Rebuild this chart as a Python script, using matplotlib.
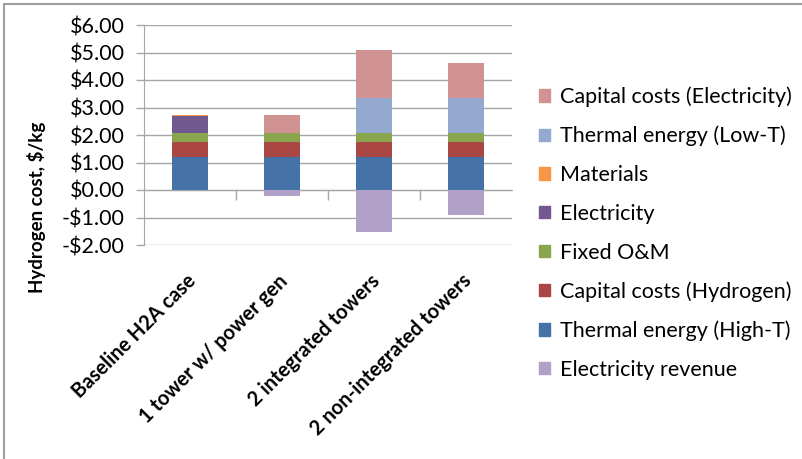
import matplotlib
matplotlib.use("Agg")
import matplotlib.pyplot as plt
from matplotlib.lines import Line2D
from matplotlib.patches import Patch
import matplotlib.transforms as mtransforms
import numpy as np

plt.rcParams['font.family'] = ['Lato', 'DejaVu Sans']

categories = ["Baseline H2A case", "1 tower w/ power gen", "2 integrated towers", "2 non-integrated towers"]
thermal_high = [1.20, 1.20, 1.20, 1.20]
cap_hydrogen = [0.54, 0.54, 0.54, 0.54]
fixed_om = [0.34, 0.34, 0.34, 0.34]
electricity = [0.60, 0.0, 0.0, 0.0]
materials = [0.04, 0.0, 0.0, 0.0]
thermal_low = [0.0, 0.0, 1.25, 1.25]
cap_electricity = [0.0, 0.66, 1.76, 1.30]
elec_revenue = [0.0, -0.23, -1.52, -0.91]

series = [
    ("Thermal energy (High-T)", thermal_high, "#4572A7"),
    ("Capital costs (Hydrogen)", cap_hydrogen, "#AA4643"),
    ("Fixed O&M", fixed_om, "#89A54E"),
    ("Electricity", electricity, "#71588F"),
    ("Materials", materials, "#F79646"),
    ("Thermal energy (Low-T)", thermal_low, "#93A9CF"),
    ("Capital costs (Electricity)", cap_electricity, "#D19392"),
]
revenue_series = ("Electricity revenue", elec_revenue, "#B1A0C7")

W, H = 802, 459
fig = plt.figure(figsize=(W / 100, H / 100), dpi=100)
ax = fig.add_axes([144 / W, 1 - 245 / H, (512 - 144) / W, (245 - 25) / H])

x = np.arange(len(categories))
bw = 0.4
bottom = np.zeros(len(categories))
handles = {}
for name, vals, col in series:
    v = np.array(vals)
    ax.bar(x, v, bw, bottom=bottom, color=col, linewidth=0, zorder=3)
    handles[name] = Patch(color=col)
    bottom += v
name, vals, col = revenue_series
ax.bar(x, vals, bw, color=col, linewidth=0, zorder=3)
handles[name] = Patch(color=col)

ax.set_xlim(-0.5, len(categories) - 0.5)
ax.set_ylim(-2, 6)
yt = np.arange(-2, 7, 1)
ax.set_yticks(yt)
ax.set_yticklabels([("-$%.2f" % abs(v)) if v < 0 else ("$%.2f" % v) for v in yt], fontsize=15.5)
ax.yaxis.grid(True, color="#A6A6A6", linewidth=1.0, zorder=0)
ax.set_axisbelow(True)
for s in ["top", "right"]:
    ax.spines[s].set_visible(False)
ax.spines["left"].set_color("#A6A6A6")
ax.spines["bottom"].set_color("#A6A6A6")
ax.spines["bottom"].set_position(("data", 0))
ax.set_xticks(np.arange(0.5, len(categories) - 0.5, 1.0))
ax.set_xticklabels([])
ax.tick_params(axis="x", direction="out", length=7, color="#A6A6A6", width=1)
ax.tick_params(axis="y", direction="out", length=6, color="#A6A6A6", width=1, pad=8)

trans = mtransforms.blended_transform_factory(ax.transData, ax.transAxes)
for i, c in enumerate(categories):
    ax.text(i + 0.03, -0.15, c, transform=trans, rotation=45, rotation_mode="anchor",
            ha="right", va="center", fontsize=14.5, fontweight="bold")

fig.text(37 / W, 1 - 207 / H, "Hydrogen cost, $/kg", rotation=90, ha="center", va="center",
         fontsize=13.5, fontweight="bold")

order = ["Capital costs (Electricity)", "Thermal energy (Low-T)", "Materials", "Electricity",
         "Fixed O&M", "Capital costs (Hydrogen)", "Thermal energy (High-T)", "Electricity revenue"]
leg = fig.legend([handles[n] for n in order], order, loc="upper left",
                 bbox_to_anchor=(533 / W, 1 - 80 / H), frameon=False, fontsize=15.5,
                 handlelength=0.5, handleheight=0.5, handletextpad=0.45, labelspacing=0.87,
                 borderaxespad=0, borderpad=0.3)

fig.add_artist(Line2D([4 / W, 1], [1 - 4 / H, 1 - 4 / H], color="#A0A0A0", linewidth=1.5))
fig.add_artist(Line2D([4 / W, 4 / W], [0, 1 - 4 / H], color="#A0A0A0", linewidth=1.5))

fig.savefig("out.png", dpi=100)
